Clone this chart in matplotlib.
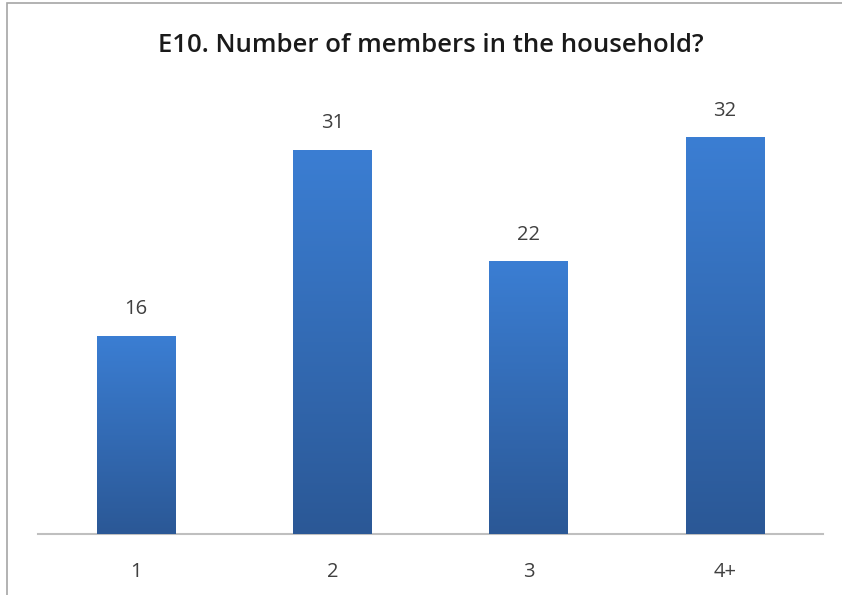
import numpy as np
import matplotlib
matplotlib.use('Agg')
import matplotlib.pyplot as plt
from matplotlib.colors import LinearSegmentedColormap
from matplotlib.patches import Rectangle

categories = ['1', '2', '3', '4+']
values = [16, 31, 22, 32]
title = 'E10. Number of members in the household?'

plt.rcParams['font.family'] = ['Open Sans', 'DejaVu Sans']

fig = plt.figure(figsize=(8.42, 5.95), dpi=100)
fig.patch.set_facecolor('white')

# outer frame (only the top and left edges show in the picture)
fig.add_artist(Rectangle((7 / 842, -0.1), 1.2, 1 - 3 / 595 + 0.1,
                         transform=fig.transFigure, fill=False,
                         edgecolor='#a6a6a6', linewidth=1.2))

ax = fig.add_axes([38 / 842, 1 - 534 / 595, 785 / 842, 434 / 595])
x = np.arange(len(categories))
bars = ax.bar(x, values, width=0.4, color='#3a73c0', zorder=2)

grad = LinearSegmentedColormap.from_list('g', ['#2b5896', '#3b7ed3'])
ramp = np.linspace(0, 1, 256).reshape(-1, 1)
for b in bars:
    x0, y0 = b.get_x(), b.get_y()
    w, h = b.get_width(), b.get_height()
    im = ax.imshow(ramp, cmap=grad, origin='lower', aspect='auto',
                   extent=[x0, x0 + w, y0, y0 + h], zorder=3)
    im.set_clip_path(b)
    ax.text(x0 + w / 2, h + 1.3, str(int(h)), ha='center', va='bottom',
            fontsize=14.5, color='#404040')

ax.set_xlim(-0.5, len(categories) - 0.5)
ax.set_ylim(0, 35)
ax.set_xticks(x)
ax.set_xticklabels(categories, fontsize=14.5, color='#404040')
ax.tick_params(axis='x', length=0, pad=20)
ax.set_yticks([])
for s in ['top', 'right', 'left']:
    ax.spines[s].set_visible(False)
ax.spines['bottom'].set_color('#bfbfbf')
ax.spines['bottom'].set_linewidth(1.5)

fig.text(431 / 842, 1 - 46 / 595, title, ha='center', va='center',
         fontsize=18.5, fontweight='semibold', color='#1a1a1a')

fig.savefig('out.png', dpi=100)
